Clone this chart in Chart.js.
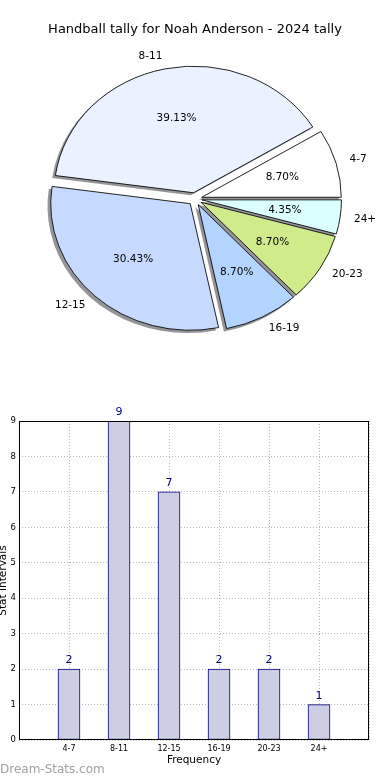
<!DOCTYPE html>
<html>
<head>
<meta charset="utf-8">
<script src="https://cdn.jsdelivr.net/npm/chart.js@4/dist/chart.umd.min.js"></script>
<style>
  html, body { margin: 0; padding: 0; background: #fff; }
  #wrap { position: relative; width: 390px; height: 780px; overflow: hidden; }
  #pie { position: absolute; left: 0; top: 0; }
  #bars { position: absolute; left: 0; top: 400px; }
  #mark { position: absolute; left: 0; top: 762px; font: 12px "DejaVu Sans", sans-serif; color: #a0a0a0; }
</style>
</head>
<body>
<div id="wrap">
  <canvas id="pie" width="390" height="400"></canvas>
  <canvas id="bars" width="390" height="380"></canvas>
  <div id="mark">Dream-Stats.com</div>
</div>
<script>
// data
const categories = ['4-7', '8-11', '12-15', '16-19', '20-23', '24+'];
const counts = [2, 9, 7, 2, 2, 1];
const pieColors = ['#ffffff', '#eaf2ff', '#c6d9ff', '#b3d4ff', '#d0eb8a', '#dbffff'];
const yTicks = [0, 1, 2, 3, 4, 5, 6, 7, 8, 9];

const titleText = 'Handball tally for Noah Anderson - 2024 tally';
const FONT = '"DejaVu Sans", sans-serif';

const total = counts.reduce((a, b) => a + b, 0);
const pctLabels = counts.map(c => (100 * c / total).toFixed(2) + '%');

// matplotlib draws counter-clockwise from 3 o'clock; chart.js goes clockwise, so reverse
const revIdx = categories.map((_, i) => categories.length - 1 - i);

const SY = 0.9075;     // pie is an ellipse in the reference (non-equal axes)
const EXPLODE = 7;

// chart.js' own arc offset also grows small slices, so explode the wedges here instead
const ellipsePlugin = {
  id: 'ellipse',
  beforeDatasetsDraw(chart) {
    const ctx = chart.ctx;
    const meta = chart.getDatasetMeta(0);
    const cx = meta.data[0].x, cy = meta.data[0].y;
    // shadow pass underneath all wedges
    ctx.save();
    ctx.translate(-2.8, 2.5);
    ctx.translate(cx, cy); ctx.scale(1, SY); ctx.translate(-cx, -cy);
    ctx.fillStyle = 'rgba(60,60,70,0.55)';
    meta.data.forEach(el => {
      const mid = (el.startAngle + el.endAngle) / 2;
      const ox = Math.cos(mid) * EXPLODE, oy = Math.sin(mid) * EXPLODE;
      ctx.beginPath();
      ctx.moveTo(el.x + ox, el.y + oy);
      ctx.arc(el.x + ox, el.y + oy, el.outerRadius + 0.4, el.startAngle, el.endAngle);
      ctx.closePath();
      ctx.fill();
    });
    ctx.restore();
    // wedges
    meta.data.forEach(el => {
      const mid = (el.startAngle + el.endAngle) / 2;
      ctx.save();
      ctx.translate(cx, cy); ctx.scale(1, SY); ctx.translate(-cx, -cy);
      ctx.translate(Math.cos(mid) * EXPLODE, Math.sin(mid) * EXPLODE);
      el.draw(ctx, chart.chartArea);
      ctx.restore();
    });
    return false;
  },
  afterDraw(chart) {
    const ctx = chart.ctx;
    const meta = chart.getDatasetMeta(0);
    ctx.save();
    ctx.fillStyle = '#000';
    ctx.textBaseline = 'middle';
    meta.data.forEach((el, j) => {
      const i = revIdx[j];
      const mid = (el.startAngle + el.endAngle) / 2;
      const c = Math.cos(mid), s = Math.sin(mid);
      const rl = EXPLODE + 1.1 * el.outerRadius;
      const rp = EXPLODE + 0.6 * el.outerRadius;
      ctx.font = '10.5px ' + FONT;
      ctx.textAlign = c >= 0 ? 'left' : 'right';
      ctx.fillText(categories[i], el.x + c * rl, el.y + s * rl * SY);
      ctx.textAlign = 'center';
      ctx.fillText(pctLabels[i], el.x + c * rp, el.y + s * rp * SY);
    });
    ctx.restore();
  }
};

new Chart(document.getElementById('pie'), {
  type: 'pie',
  data: {
    labels: revIdx.map(i => categories[i]),
    datasets: [{
      data: revIdx.map(i => counts[i]),
      backgroundColor: revIdx.map(i => pieColors[i]),
      borderColor: '#000',
      borderWidth: 0.9,
      offset: 0,
      radius: 139.5
    }]
  },
  options: {
    responsive: false,
    animation: false,
    rotation: 90,
    layout: { padding: { left: 0, right: 0, top: 0, bottom: 39.6 } },
    plugins: {
      legend: { display: false },
      tooltip: { enabled: false },
      title: {
        display: true, text: titleText, color: '#000',
        font: { family: FONT, size: 13, weight: 'normal' },
        padding: { top: 22, bottom: 0 }
      }
    }
  },
  plugins: [ellipsePlugin]
});

const boxPlugin = {
  id: 'box',
  afterDraw(chart) {
    const { ctx, chartArea: a } = chart;
    ctx.save();
    ctx.strokeStyle = '#000';
    ctx.lineWidth = 1;
    ctx.strokeRect(Math.round(a.left) + 0.5, Math.round(a.top) + 0.5,
      Math.round(a.right - a.left) - 1, Math.round(a.bottom - a.top) - 1);
    // value labels above bars
    const meta = chart.getDatasetMeta(0);
    ctx.fillStyle = '#000080';
    ctx.font = '11px ' + FONT;
    ctx.textAlign = 'center';
    ctx.textBaseline = 'bottom';
    meta.data.forEach((bar, i) => ctx.fillText(String(counts[i]), bar.x, bar.y - 3));
    ctx.restore();
  }
};

const gridDots = { color: '#b8b8b8', lineWidth: 1, drawTicks: false, borderDash: [1, 2] };

new Chart(document.getElementById('bars'), {
  type: 'bar',
  data: {
    datasets: [{
      data: counts.map((v, i) => ({ x: i, y: v })),
      backgroundColor: '#cdcde4',
      borderColor: '#000080',
      borderWidth: 1,
      borderSkipped: false,
      barThickness: 22
    }]
  },
  options: {
    responsive: false,
    animation: false,
    layout: { padding: { left: 0, right: 21, top: 21, bottom: 0 } },
    plugins: { legend: { display: false }, tooltip: { enabled: false } },
    scales: {
      x: {
        type: 'linear', min: -1, max: 6, offset: false, z: 1,
        grid: Object.assign({ offset: false }, gridDots),
        border: { display: false, dash: [1, 2] },
        ticks: {
          stepSize: 1, padding: 4, color: '#000', autoSkip: false, maxRotation: 0,
          font: { family: FONT, size: 8 },
          callback: v => categories[v] !== undefined ? categories[v] : ''
        },
        title: {
          display: true, text: 'Frequency', color: '#000',
          font: { family: FONT, size: 10.5 }, padding: { top: 0, bottom: 13.7 }
        },
        afterFit(scale) { scale.height = 40; }
      },
      y: {
        min: yTicks[0], max: yTicks[yTicks.length - 1], z: 1,
        grid: gridDots,
        border: { display: false, dash: [1, 2] },
        afterBuildTicks(scale) { scale.ticks = yTicks.map(v => ({ value: v })); },
        ticks: { padding: 3, color: '#000', font: { family: FONT, size: 8.5 } },
        title: {
          display: true, text: 'Stat Intervals', color: '#000',
          font: { family: FONT, size: 10.5 }, padding: { top: -3, bottom: 0 }
        },
        afterFit(scale) { scale.width = 19; }
      }
    }
  },
  plugins: [boxPlugin]
});
</script>
</body>
</html>
